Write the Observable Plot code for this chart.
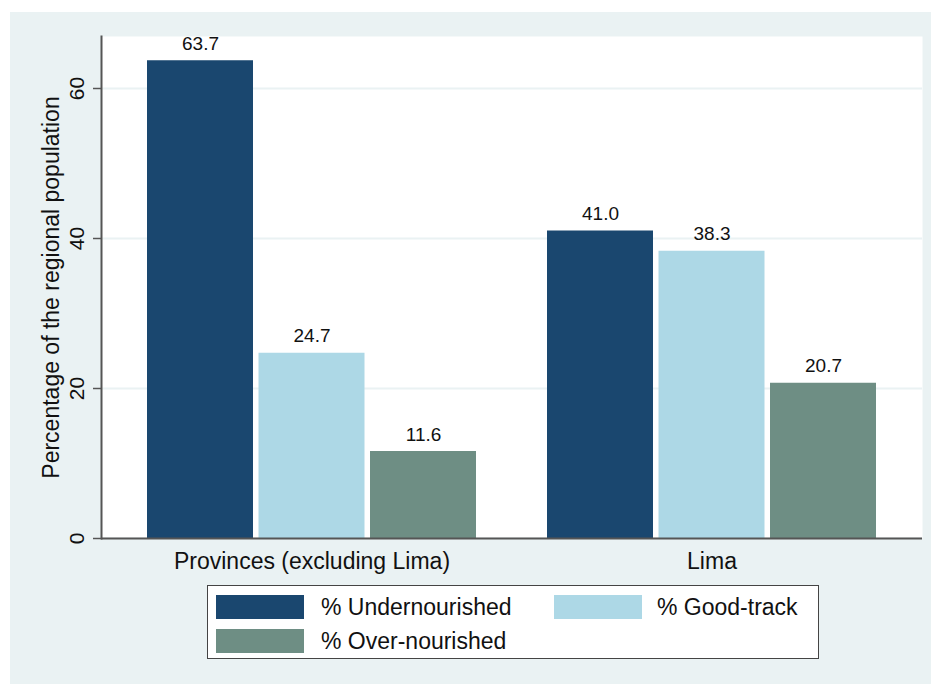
<!DOCTYPE html>
<html>
<head>
<meta charset="utf-8">
<script src="https://cdn.jsdelivr.net/npm/d3@7"></script>
<script src="https://cdn.jsdelivr.net/npm/@observablehq/plot@0.6"></script>
<style>
  html, body { margin: 0; padding: 0; background: #ffffff; }
  body { width: 931px; height: 684px; position: relative; overflow: hidden;
         font-family: "Liberation Sans", Arial, sans-serif; }
  #panel { position: absolute; left: 10px; top: 12px; width: 921px; height: 672px; background: #eaf2f3; }
  #chart { position: absolute; left: 0; top: 0; }
  #legend { position: absolute; left: 197px; top: 573px; width: 610px; height: 72px;
            background: #ffffff; border: 1px solid #444; }
  .sw { position: absolute; width: 88px; height: 24px; }
  .lb { position: absolute; font-size: 23px; color: #111; line-height: 24px; white-space: nowrap; }
</style>
</head>
<body>
<div id="panel">
  <div id="chart"></div>
  <div id="legend"></div>
</div>
<script>
// ---- data ----
const groups = ["Provinces (excluding Lima)", "Lima"];
const series = ["% Undernourished", "% Good-track", "% Over-nourished"];
const undernourished = [63.7, 41.0];
const goodTrack = [24.7, 38.3];
const overNourished = [11.6, 20.7];
const yTicks = [0, 20, 40, 60];
const yTitle = "Percentage of the regional population";
const colors = ["#1a476f", "#add8e6", "#6e8e84"];

const seriesValues = [undernourished, goodTrack, overNourished];
const rows = [];
series.forEach((s, i) => groups.forEach((g, j) => rows.push({group: g, series: s, i, value: seriesValues[i][j]})));

// ---- layout ----
const W = 921, H = 563;
const mL = 91, mR = 9, mT = 24, mB = 37;
const pIn = 0.1775, pOut = 0.115;
const step = (W - mL - mR) / (groups.length - pIn + 2 * pOut);
const bw = step * (1 - pIn);
const barW = 106, barStep = (bw - barW) / 2;

const marks = [
  Plot.frame({fill: "white", stroke: "none"}),
  Plot.gridY({ticks: yTicks, stroke: "#eaf2f3", strokeOpacity: 1, strokeWidth: 2})
];
series.forEach((s, i) => {
  const insetLeft = i * barStep;
  const insetRight = bw - insetLeft - barW;
  const data = rows.filter(d => d.i === i);
  marks.push(Plot.barY(data, {x: "group", y: "value", fill: colors[i], insetLeft, insetRight}));
  marks.push(Plot.text(data, {x: "group", y: "value", text: d => d.value.toFixed(1),
    dx: insetLeft + barW / 2 - bw / 2, dy: -11, lineAnchor: "bottom", fontSize: 19, fill: "#111"}));
});
marks.push(
  Plot.ruleY([0], {stroke: "#555", strokeWidth: 2}),
  Plot.frame({anchor: "left", stroke: "#555", strokeWidth: 2}),
  Plot.axisY({ticks: yTicks, tickSize: 8, tickPadding: 10, tickRotate: -90, fontSize: 21,
    stroke: "#555", strokeWidth: 1.5, label: null, tickFormat: d => String(d)}),
  Plot.axisX({tickSize: 0, tickPadding: 14, fontSize: 23, label: null}),
  Plot.text([yTitle], {frameAnchor: "left", rotate: -90, dx: -42.5, fontSize: 23,
    lineAnchor: "bottom", textAnchor: "middle", fill: "#111"})
);

const chart = Plot.plot({
  width: W, height: H,
  marginLeft: mL, marginRight: mR, marginTop: mT, marginBottom: mB,
  style: {background: "transparent", fontFamily: "'Liberation Sans', Arial, sans-serif", color: "#111", overflow: "visible"},
  x: {type: "band", domain: groups, paddingInner: pIn, paddingOuter: pOut, round: false, label: null},
  y: {domain: [0, (H - mT - mB) / 7.5], label: null},
  marks
});
document.getElementById("chart").appendChild(chart);

// ---- legend ----
const legend = document.getElementById("legend");
const legendPos = [
  {sx: 8, sy: 9, lx: 113},
  {sx: 346, sy: 9, lx: 449},
  {sx: 8, sy: 43, lx: 113}
];
series.forEach((s, i) => {
  const p = legendPos[i];
  const sw = document.createElement("div");
  sw.className = "sw";
  sw.style.left = p.sx + "px"; sw.style.top = p.sy + "px"; sw.style.background = colors[i];
  legend.appendChild(sw);
  const lb = document.createElement("div");
  lb.className = "lb";
  lb.style.left = p.lx + "px"; lb.style.top = p.sy + "px";
  lb.textContent = s;
  legend.appendChild(lb);
});
</script>
</body>
</html>
